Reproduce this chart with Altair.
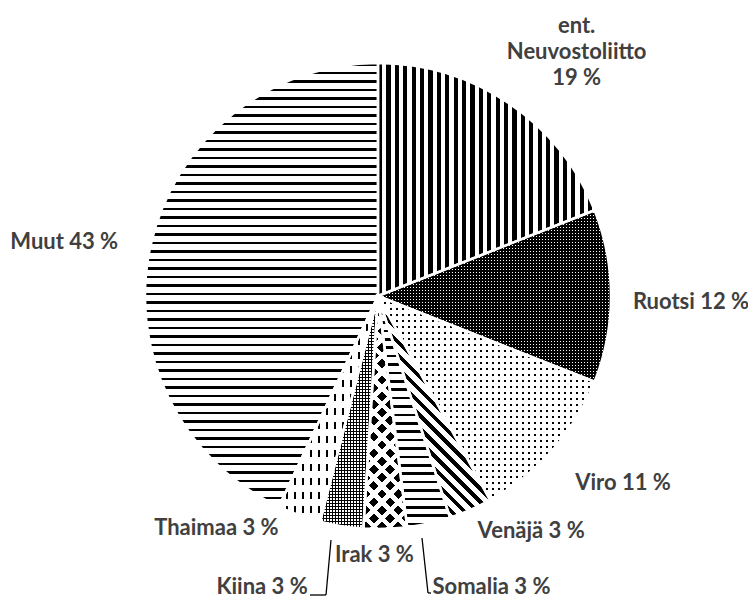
import math
import altair as alt
import pandas as pd

# ---------------- data ----------------
categories = ["ent. Neuvostoliitto", "Ruotsi", "Viro", "Venäjä", "Somalia",
              "Irak", "Kiina", "Thaimaa", "Muut"]
shares = [19, 12, 11, 3, 3, 3, 3, 3, 43]
labels = ["ent.\nNeuvostoliitto\n19 %", "Ruotsi 12 %", "Viro 11 %", "Venäjä 3 %",
          "Somalia 3 %", "Irak 3 %", "Kiina 3 %", "Thaimaa 3 %", "Muut 43 %"]

df = pd.DataFrame({"cat": categories, "share": shares, "label": labels,
                   "order": list(range(len(categories)))})

# ---------------- layout ----------------
W, H = 740, 576
R = 233
LABEL_R = 300
TEXT_COLOR = "#404040"
FONT = "Lato"
FONT_SIZE = 22
# label nudges (dx, dy) relative to the polar point at LABEL_R
label_nudge = {
    "ent. Neuvostoliitto": (30, -22),
    "Ruotsi": (13, 6),
    "Viro": (20, -11),
    "Venäjä": (34, -40),
    "Somalia": (48, -2),
    "Irak": (-13, -41),
    "Kiina": (-69, -5),
    "Thaimaa": (-60, -50),
    "Muut": (-21, 11),
}

BLACK = "#000000"
WHITE = "#ffffff"
CLEAR = "rgba(255,255,255,0)"


def sector_bbox(a0, a1, r):
    pts = [(0.0, 0.0), (r * math.sin(a0), -r * math.cos(a0)),
           (r * math.sin(a1), -r * math.cos(a1))]
    for k in range(5):
        ang = k * math.pi / 2
        if a0 <= ang <= a1:
            pts.append((r * math.sin(ang), -r * math.cos(ang)))
    xs = [p[0] for p in pts]
    ys = [p[1] for p in pts]
    return min(xs), min(ys), max(xs) - min(xs), max(ys) - min(ys)


def make_stops(n, frac, on, off):
    stops = []
    for i in range(n):
        a = round(i / n, 6)
        b = round((i + frac) / n, 6)
        e = round((i + 1) / n, 6)
        stops += [alt.GradientStop(offset=a, color=on),
                  alt.GradientStop(offset=b, color=on),
                  alt.GradientStop(offset=b, color=off),
                  alt.GradientStop(offset=e, color=off)]
    return stops


def stripe_gradient(kind, bb, period, frac, on, off):
    mx, my, w, h = bb
    if kind in ("v", "h"):
        lo, size = (mx, w) if kind == "v" else (my, h)
        start = math.floor(lo)              # align stripes to whole pixels
        t0 = (start - lo) / size
        n = int(math.ceil((lo + size - start) / period)) + 1
        t1 = t0 + n * period / size
        if kind == "v":
            x1, y1, x2, y2 = t0, 0, t1, 0
        else:
            x1, y1, x2, y2 = 0, t0, 0, t1
        return alt.Gradient(gradient="linear", stops=make_stops(n, frac, on, off),
                            x1=x1, y1=y1, x2=x2, y2=y2)
    c = (w + h) / (w * w + h * h)
    span = (w + h) / math.sqrt(2)
    if kind == "d1":  # "\" stripes
        x1, y1, x2, y2 = 0, 1, c * w, 1 - c * h
    else:  # "/" stripes
        x1, y1, x2, y2 = 0, 0, c * w, c * h
    n = max(1, int(round(span / period)))
    return alt.Gradient(gradient="linear", stops=make_stops(n, frac, on, off),
                        x1=x1, y1=y1, x2=x2, y2=y2)


# pattern recipes: list of layers (kind, period, frac, on, off)
patterns = {
    "ent. Neuvostoliitto": [("v", 8.4, 0.5, BLACK, WHITE)],
    "Ruotsi": [("v", 3.0, 2 / 3, BLACK, WHITE), ("h", 3.0, 2 / 3, BLACK, CLEAR)],
    "Viro": [("h", 6.0, 1 / 3, BLACK, WHITE), ("v", 6.0, 1 / 3, CLEAR, WHITE)],
    "Venäjä": [("d1", 9.0, 0.42, BLACK, WHITE)],
    "Somalia": [("h", 8.4, 0.32, BLACK, WHITE)],
    "Irak": [("d2", 11.5, 0.6, BLACK, WHITE), ("d1", 11.5, 0.6, CLEAR, WHITE)],
    "Kiina": [("v", 3.0, 1 / 3, BLACK, WHITE), ("h", 3.0, 1 / 3, BLACK, CLEAR)],
    "Thaimaa": [("v", 8.0, 0.25, BLACK, WHITE), ("h", 14.0, 0.5, CLEAR, WHITE)],
    "Muut": [("h", 8.5, 0.33, BLACK, WHITE)],
}

base = (alt.Chart(df)
        .transform_window(cum="sum(share)", sort=[alt.SortField("order")], frame=[None, 0])
        .transform_calculate(start="datum.cum - datum.share",
                             mid="datum.cum - datum.share / 2"))

theta_scale = alt.Scale(domain=[0, 100])
total = float(sum(shares))

layers = []
cum = 0.0
for cat, sh in zip(categories, shares):
    a0 = cum / total * 2 * math.pi
    a1 = (cum + sh) / total * 2 * math.pi
    cum += sh
    bb = sector_bbox(a0, a1, R)
    for (kind, period, frac, on, off) in patterns[cat]:
        g = stripe_gradient(kind, bb, period, frac, on, off)
        layers.append(
            base.transform_filter(alt.datum.cat == cat)
            .mark_arc(outerRadius=R, fill=g, strokeWidth=0)
            .encode(theta=alt.Theta("start:Q", scale=theta_scale, stack=None),
                    theta2="cum:Q")
        )

# white separators between slices
layers.append(
    base.mark_arc(outerRadius=R, fillOpacity=0, stroke=WHITE, strokeWidth=2.5)
    .encode(theta=alt.Theta("start:Q", scale=theta_scale, stack=None), theta2="cum:Q")
)

# labels
for cat in categories:
    dx, dy = label_nudge[cat]
    layers.append(
        base.transform_filter(alt.datum.cat == cat)
        .mark_text(radius=LABEL_R, dx=dx, dy=dy, font=FONT, fontSize=FONT_SIZE,
                   fontWeight="bold", color=TEXT_COLOR, lineBreak="\n",
                   lineHeight=26, align="center", baseline="middle")
        .encode(theta=alt.Theta("mid:Q", scale=theta_scale, stack=None),
                text="label:N")
    )

# leader lines (Kiina, Somalia)
leader = [
    (302, 587, 318, 587), (318, 587, 323, 532),
    (414, 530, 420, 585), (420, 585, 423, 585),
]
for (x1, y1, x2, y2) in leader:
    layers.append(
        alt.Chart(df).transform_filter(alt.datum.order == 0)
        .mark_rule(color="#000000", strokeWidth=1.3)
        .encode(x=alt.value(x1), y=alt.value(y1), x2=alt.value(x2), y2=alt.value(y2))
    )

chart = (alt.layer(*layers)
         .properties(width=W, height=H,
                     autosize=alt.AutoSizeParams(type="none"),
                     padding={"left": 0, "top": 0, "right": 0, "bottom": 19})
         .configure_view(stroke=None))

chart.save("out.html", embed_options={"renderer": "svg", "actions": False})
